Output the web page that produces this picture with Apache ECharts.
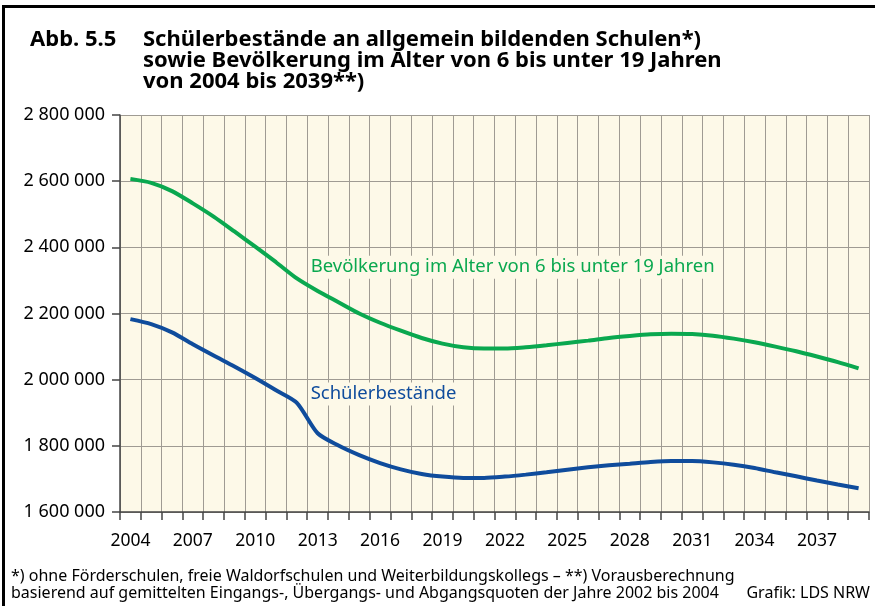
<!DOCTYPE html>
<html>
<head>
<meta charset="utf-8">
<script src="https://cdn.jsdelivr.net/npm/echarts@6/dist/echarts.min.js"></script>
<style>
html, body { margin: 0; padding: 0; background: #fff; }
#chart { width: 875px; height: 606px; }
</style>
</head>
<body>
<div id="chart"></div>
<script>
var years = [];
for (var y = 2004; y <= 2039; y++) { years.push(String(y)); }

var bevoelkerung = [
	2607000, 2595000, 2570000, 2533000, 2493000, 2448000, 2402000, 2355000, 2306000, 2268000,
	2234000, 2200000, 2172000, 2148000, 2126000, 2109000, 2098000, 2094000, 2094000, 2098000,
	2104000, 2111000, 2118000, 2126000, 2132000, 2137000, 2139000, 2138000, 2133000, 2124000,
	2113000, 2100000, 2086000, 2070000, 2053000, 2034000
];
var schueler = [
	2183000, 2168000, 2143000, 2107000, 2073000, 2040000, 2005000, 1968000, 1930000, 1838000,
	1801000, 1772000, 1748000, 1729000, 1715000, 1707000, 1703000, 1703000, 1707000, 1713000,
	1720000, 1728000, 1735000, 1741000, 1746000, 1751000, 1754000, 1754000, 1750000, 1743000,
	1733000, 1720000, 1708000, 1695000, 1683000, 1672000
];

var font = '"Noto Sans", "DejaVu Sans", sans-serif';
var green = '#0aa84f';
var blue = '#0f4c9c';
var cream = '#fdf9e8';

function fmt(v) {
	return String(v).replace(/\B(?=(\d{3})+(?!\d))/g, ' ');
}

var chart = echarts.init(document.getElementById('chart'));
var option = {
	animation: false,
	backgroundColor: '#fff',
	title: [{
		text: 'Abb. 5.5',
		left: 30, top: 29, padding: 0,
		textStyle: { fontFamily: font, fontSize: 22, fontWeight: 'bold', color: '#000', lineHeight: 21 }
	}, {
		text: 'Schülerbestände an allgemein bildenden Schulen*)\nsowie Bevölkerung im Alter von 6 bis unter 19 Jahren\nvon 2004 bis 2039**)',
		left: 143, top: 29, padding: 0,
		textStyle: { fontFamily: font, fontSize: 22, fontWeight: 'bold', color: '#000', lineHeight: 21 }
	}, {
		text: '*) ohne Förderschulen, freie Waldorfschulen und Weiterbildungskollegs – **) Vorausberechnung\nbasierend auf gemittelten Eingangs-, Übergangs- und Abgangsquoten der Jahre 2002 bis 2004',
		left: 11, top: 568, padding: 0,
		textStyle: { fontFamily: font, fontSize: 16, fontWeight: 'normal', color: '#000', lineHeight: 17 }
	}, {
		text: 'Grafik: LDS NRW',
		right: 5, top: 585, padding: 0,
		textStyle: { fontFamily: font, fontSize: 16, fontWeight: 'normal', color: '#000', lineHeight: 17 }
	}],
	graphic: [{
		type: 'rect', shape: { x: 2, y: 5, width: 873, height: 3 }, style: { fill: '#000' }
	}, {
		type: 'rect', shape: { x: 2, y: 5, width: 3, height: 601 }, style: { fill: '#000' }
	}],
	grid: { left: 120, right: 6, top: 115, bottom: 94, backgroundColor: cream, show: true, borderWidth: 0 },
	xAxis: {
		type: 'category',
		data: years,
		boundaryGap: true,
		axisLine: { lineStyle: { color: '#444', width: 1.5 } },
		axisTick: { show: true, interval: 0, length: 8, lineStyle: { color: '#444', width: 1.5 } },
		axisLabel: { interval: 2, color: '#000', fontFamily: font, fontSize: 17.5, margin: 20 },
		splitLine: { show: true, interval: 0, lineStyle: { color: '#9f9b93', width: 1 } }
	},
	yAxis: {
		type: 'value',
		min: 1600000, max: 2800000, interval: 200000,
		axisLine: { show: true, lineStyle: { color: '#444', width: 1.5 } },
		axisTick: { show: true, length: 8, lineStyle: { color: '#444', width: 1.5 } },
		axisLabel: { color: '#000', fontFamily: font, fontSize: 18, margin: 15, formatter: fmt },
		splitLine: { show: true, lineStyle: { color: '#9f9b93', width: 1 } }
	},
	series: [{
		name: 'Bevölkerung',
		type: 'line',
		data: bevoelkerung,
		smooth: 0.25,
		symbol: 'none',
		lineStyle: { color: green, width: 4 },
		markPoint: {
			symbol: 'rect', symbolSize: 0,
			data: [{ coord: ['2013', 2340000] }],
			label: {
				show: true, position: 'right', offset: [-14, 0],
				formatter: 'Bevölkerung im Alter von 6 bis unter 19 Jahren',
				color: green, fontFamily: font, fontSize: 18.5,
				backgroundColor: cream, padding: [2, 2]
			}
		}
	}, {
		name: 'Schülerbestände',
		type: 'line',
		data: schueler,
		smooth: 0.25,
		symbol: 'none',
		lineStyle: { color: blue, width: 4 },
		markPoint: {
			symbol: 'rect', symbolSize: 0,
			data: [{ coord: ['2013', 1957000] }],
			label: {
				show: true, position: 'right', offset: [-14, 0],
				formatter: 'Schülerbestände',
				color: blue, fontFamily: font, fontSize: 18.5,
				backgroundColor: cream, padding: [2, 2]
			}
		}
	}]
};
chart.setOption(option);
window.addEventListener('resize', chart.resize);
</script>
</body>
</html>
